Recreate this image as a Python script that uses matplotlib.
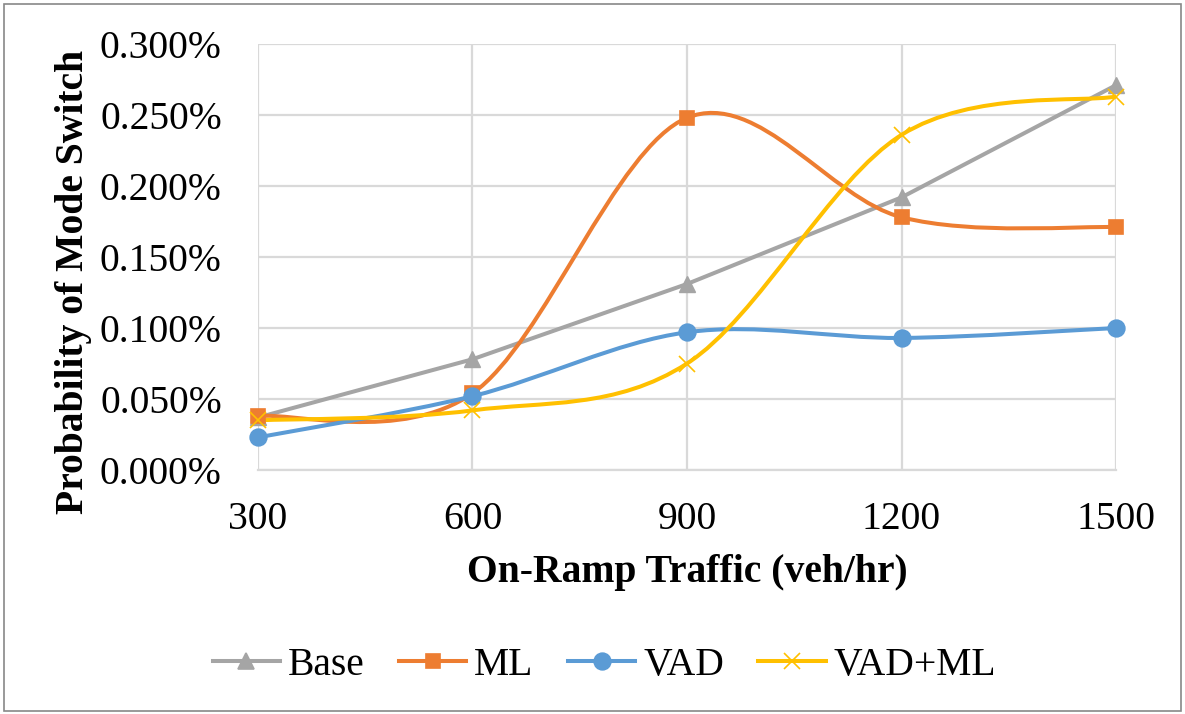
import matplotlib.pyplot as plt
from matplotlib.path import Path
from matplotlib.patches import PathPatch, Rectangle
from matplotlib.lines import Line2D
from matplotlib.ticker import FuncFormatter

plt.rcParams['font.family'] = ['Liberation Serif', 'DejaVu Serif']

traffic = [300, 600, 900, 1200, 1500]
base = [0.037, 0.078, 0.131, 0.192, 0.271]
ml = [0.038, 0.054, 0.248, 0.178, 0.171]
vad = [0.023, 0.052, 0.097, 0.093, 0.100]
vad_ml = [0.035, 0.042, 0.075, 0.236, 0.263]

series = [
    ('Base', base, '#a5a5a5', '^', 11, False),
    ('ML', ml, '#ed7d31', 's', 10, True),
    ('VAD', vad, '#5b9bd5', 'o', 12, True),
    ('VAD+ML', vad_ml, '#ffc000', 'x', 11, True),
]


def smooth_path(xs, ys):
    # excel-like smoothed line: cubic bezier with catmull-rom style control points
    pts = list(zip(xs, ys))
    n = len(pts)
    verts = [pts[0]]
    codes = [Path.MOVETO]
    for i in range(n - 1):
        p0 = pts[i - 1] if i > 0 else pts[i]
        p1 = pts[i]
        p2 = pts[i + 1]
        p3 = pts[i + 2] if i + 2 < n else pts[i + 1]
        c1 = (p1[0] + (p2[0] - p0[0]) / 6, p1[1] + (p2[1] - p0[1]) / 6)
        c2 = (p2[0] - (p3[0] - p1[0]) / 6, p2[1] - (p3[1] - p1[1]) / 6)
        verts += [c1, c2, p2]
        codes += [Path.CURVE4] * 3
    return Path(verts, codes)


fig = plt.figure(figsize=(11.85, 7.14), dpi=100)
ax = fig.add_axes([0.2177, 0.3417, 0.7241, 0.5967])

lw = 2.9
handles = []
for name, vals, col, mk, ms, smooth in series:
    if smooth:
        ax.add_patch(PathPatch(smooth_path(traffic, vals), fill=False,
                               edgecolor=col, lw=lw, zorder=3))
        ax.plot(traffic, vals, ls='none', marker=mk, color=col, ms=ms,
                mew=1.2, zorder=4, clip_on=False)
    else:
        ax.plot(traffic, vals, ls='-', lw=lw, marker=mk, color=col, ms=ms,
                zorder=3, clip_on=False)
    handles.append(Line2D([], [], color=col, lw=lw, marker=mk, ms=ms, mew=1.2,
                          label=name))

ax.set_xlim(300, 1500)
ax.set_ylim(0, 0.3)
ax.set_xticks(traffic)
ax.set_yticks([0, 0.05, 0.1, 0.15, 0.2, 0.25, 0.3])
ax.yaxis.set_major_formatter(FuncFormatter(lambda v, p: f'{v:.3f}%'))
ax.grid(True, color='#d9d9d9', lw=1.6)
ax.set_axisbelow(True)
for s in ['top', 'right', 'left']:
    ax.spines[s].set_visible(False)
ax.spines['bottom'].set_color('#d9d9d9')
ax.spines['bottom'].set_linewidth(1.6)
ax.tick_params(length=0, labelsize=28.5, pad=22)
ax.tick_params(axis='y', pad=26)

ax.set_xlabel('On-Ramp Traffic (veh/hr)', fontsize=28.5, fontweight='bold', labelpad=12)
ax.set_ylabel('Probability of Mode Switch', fontsize=28.5, fontweight='bold', labelpad=6)
ax.yaxis.label.set_y(0.441)

fig.legend(handles=handles, loc='center', bbox_to_anchor=(0.51, 0.0686), ncol=4,
           frameon=False, fontsize=28.5, handlelength=1.7, handletextpad=0.2,
           columnspacing=0.87)

fig.patches.append(Rectangle((0.003, 0.004), 0.994, 0.99, transform=fig.transFigure,
                             fill=False, edgecolor='#888888', lw=1.2))

fig.savefig('out.png', dpi=100)
